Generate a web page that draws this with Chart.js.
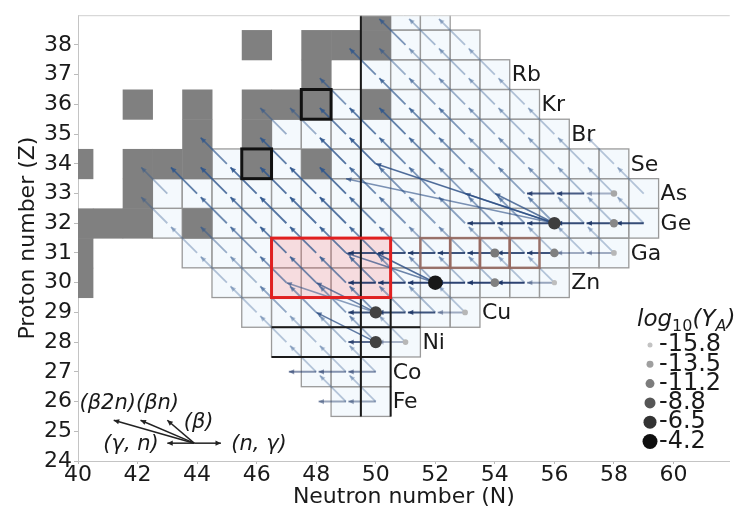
<!DOCTYPE html>
<html>
<head>
<meta charset="utf-8">
<script src="https://cdn.jsdelivr.net/npm/chart.js@4.4.0/dist/chart.umd.min.js"></script>
<style>
html, body { margin: 0; padding: 0; background: #fff; }
</style>
</head>
<body>
<canvas id="myCanvas" width="737" height="513"></canvas>
<script>
// tick labels
const nTicks = [40, 42, 44, 46, 48, 50, 52, 54, 56, 58, 60];
const zTicks = [24, 25, 26, 27, 28, 29, 30, 31, 32, 33, 34, 35, 36, 37, 38];

// stable nuclei (grey squares)
const stableN = [40, 40, 40, 41, 42, 44, 42, 40, 42, 43, 44, 46, 48, 44, 46, 42, 44, 46, 47, 48, 50, 48, 46, 48, 49, 50, 50];
const stableZ = [30, 31, 32, 32, 32, 32, 33, 34, 34, 34, 34, 34, 34, 35, 35, 36, 36, 36, 36, 36, 36, 37, 38, 38, 38, 38, 39];

// network rows
const rowZ    = [26, 27, 28, 29, 30, 31, 32, 33, 34, 35, 36, 37, 38, 39];
const rowNmin = [49, 48, 47, 46, 45, 44, 43, 43, 45, 47, 49, 50, 51, 51];
const rowNmax = [50, 50, 51, 53, 56, 58, 59, 59, 58, 56, 55, 54, 53, 52];
const rowName = ['Fe', 'Co', 'Ni', 'Cu', 'Zn', 'Ga', 'Ge', 'As', 'Se', 'Br', 'Kr', 'Rb', '', ''];

// beta-decay flow strength, one entry per N from rowNmin to rowNmax
const betaFlow = [
    [0.1, 0.1],
    [0.1, 0.1, 0.1],
    [0.1, 0.15, 0.2, 0.3, 0.1],
    [0.1, 0.35, 0.4, 0.4, 0.5, 0.3, 0.2, 0.1],
    [0.15, 0.2, 0.5, 0.6, 0.6, 0.6, 0.4, 0.3, 0.2, 0.2, 0.15, 0.1],
    [0.15, 0.3, 0.5, 0.7, 0.7, 0.7, 0.6, 0.5, 0.3, 0.3, 0.2, 0.2, 0.15, 0.1, 0.1],
    [0.15, 0, 0.6, 0.7, 0.8, 0.8, 0.8, 0.6, 0.5, 0.4, 0.4, 0.4, 0.4, 0.4, 0.2, 0.15, 0.1],
    [0.2, 0.7, 0.8, 0.8, 0.8, 0.8, 0.8, 0.6, 0.5, 0.5, 0.4, 0.4, 0.4, 0.3, 0.2, 0.15, 0.1],
    [0.6, 0, 0.7, 0, 0.8, 0.8, 0.6, 0.6, 0.5, 0.3, 0.3, 0.2, 0.15, 0.1],
    [0.3, 0.3, 0.7, 0.7, 0.7, 0.6, 0.5, 0.3, 0.2, 0.15],
    [0.5, 0, 0.6, 0.4, 0.3, 0.2, 0.15],
    [0.6, 0.3, 0.2, 0.2, 0.15],
    [0.5, 0.2, 0.15],
    [0.15, 0.15]
];

// (n,g)/(g,n) flows along isotopic chains
const hZ      = [33, 32, 31, 30, 29, 28, 27, 26];
const hFrom   = [55, 53, 49, 49, 49, 49, 47, 48];
const hTo     = [58, 59, 58, 56, 53, 51, 50, 50];
const hDarkTo = [57, 59, 56, 55, 52, 50, 50, 50];
const hFlow   = [0.8, 0.9, 0.85, 0.95, 0.85, 0.7, 0.45, 0.35];

// beta-delayed neutron flows
const bnN0 = [56, 56, 56, 52, 52, 50, 50, 50, 56];
const bnZ0 = [32, 32, 32, 30, 30, 29, 29, 28, 32];
const bnN1 = [50, 54, 53, 50, 49, 48, 47, 48, 49];
const bnZ1 = [34, 33, 33, 31, 31, 30, 30, 29, 33.5];
const bnFlow = [0.8, 0.7, 0.6, 0.8, 0.6, 0.6, 0.4, 0.7, 0.5];

// abundances log10(Y_A)
const yN   = [52, 56, 50, 50, 54, 56, 54, 58, 56, 51, 53, 58, 58];
const yZ   = [30, 32, 29, 28, 31, 31, 30, 32, 30, 28, 29, 33, 31];
const yLog = [-4.8, -7.2, -7.5, -7.5, -11.0, -11.5, -11.5, -12.0, -15.5, -15.0, -15.0, -14.0, -15.0];
const legendVals = [-15.8, -13.5, -11.2, -8.8, -6.5, -4.2];

// highlighted nuclei
const redBox = [46.5, 50.5, 29.5, 31.5];
const brownN = [52, 53, 54, 55];
const brownZ = [31, 31, 31, 31];
const blackN = [46, 48];
const blackZ = [34, 36];

// reaction key
const keyOrigin = [43.9, 24.6];
const keyDN = [1, -1, -1, -2, -3];
const keyDZ = [0, 0, 1, 1, 1];
const keyText = ['(β2n)(βn)', '(β)', '(γ, n)', '(n, γ)'];
const keyTextN = [40.05, 43.55, 40.85, 45.15];
const keyTextZ = [25.92, 25.3, 24.56, 24.56];

const FONT = 'DejaVu Sans';

function isStable(n, z) {
    for (let i = 0; i < stableN.length; i++) {
        if (stableN[i] === n && stableZ[i] === z) return true;
    }
    return false;
}

function radiusFor(v) {
    return 2.5 + (v + 15.8) / 11.6 * 5;
}

function greyFor(v) {
    const g = Math.round(195 - (v + 15.8) / 11.6 * 180);
    return 'rgb(' + g + ',' + g + ',' + g + ')';
}

function drawArrow(ctx, x0, y0, x1, y1, color, lw, head) {
    const a = Math.atan2(y1 - y0, x1 - x0);
    ctx.strokeStyle = color;
    ctx.fillStyle = color;
    ctx.lineWidth = lw;
    ctx.beginPath();
    ctx.moveTo(x0, y0);
    ctx.lineTo(x1, y1);
    ctx.stroke();
    ctx.beginPath();
    ctx.moveTo(x1, y1);
    ctx.lineTo(x1 - head * Math.cos(a - 0.45), y1 - head * Math.sin(a - 0.45));
    ctx.lineTo(x1 - head * Math.cos(a + 0.45), y1 - head * Math.sin(a + 0.45));
    ctx.closePath();
    ctx.fill();
}

const nuclearPlugin = {
    id: 'nuclear',
    beforeDatasetsDraw(chart) {
        const ctx = chart.ctx;
        const a = chart.chartArea;
        const px = v => chart.scales.x.getPixelForValue(v);
        const py = v => chart.scales.y.getPixelForValue(v);
        ctx.save();
        ctx.beginPath();
        ctx.rect(a.left, a.top, a.right - a.left, a.bottom - a.top);
        ctx.clip();

        // network cells
        rowZ.forEach((z, i) => {
            for (let n = rowNmin[i]; n <= rowNmax[i]; n++) {
                if (isStable(n, z)) continue;
                const x0 = px(n - 0.5), x1 = px(n + 0.5), y0 = py(z + 0.5), y1 = py(z - 0.5);
                ctx.fillStyle = 'rgba(220,235,250,0.3)';
                ctx.fillRect(x0, y0, x1 - x0, y1 - y0);
                ctx.strokeStyle = '#9a9a9a';
                ctx.lineWidth = 1.3;
                ctx.strokeRect(x0, y0, x1 - x0, y1 - y0);
            }
        });

        // stable nuclei
        ctx.fillStyle = '#808080';
        stableN.forEach((n, i) => {
            const z = stableZ[i];
            const x0 = px(n - 0.5), x1 = px(n + 0.5), y0 = py(z + 0.5), y1 = py(z - 0.5);
            ctx.fillRect(x0, y0, x1 - x0 + 0.5, y1 - y0 + 0.5);
        });

        // red region fill
        ctx.fillStyle = 'rgba(255,120,120,0.22)';
        ctx.fillRect(px(redBox[0]), py(redBox[3]), px(redBox[1]) - px(redBox[0]), py(redBox[2]) - py(redBox[3]));

        // beta arrows
        rowZ.forEach((z, i) => {
            betaFlow[i].forEach((s, k) => {
                if (s <= 0) return;
                const n = rowNmin[i] + k;
                const alpha = 0.25 + 0.7 * s;
                drawArrow(ctx, px(n), py(z), px(n - 0.88), py(z + 0.88),
                    'rgba(45,85,140,' + alpha.toFixed(2) + ')', 1.8, 6);
            });
        });

        // beta-delayed neutron arrows
        bnN0.forEach((n0, i) => {
            const alpha = 0.25 + 0.7 * bnFlow[i];
            drawArrow(ctx, px(n0), py(bnZ0[i]), px(bnN1[i]), py(bnZ1[i]),
                'rgba(40,75,130,' + alpha.toFixed(2) + ')', 1.6, 6);
        });

        // horizontal chains
        hZ.forEach((z, i) => {
            for (let n = hFrom[i]; n < hTo[i]; n++) {
                const s = n < hDarkTo[i] ? hFlow[i] : hFlow[i] * 0.35;
                const col = 'rgba(25,50,100,' + (0.15 + 0.8 * s).toFixed(2) + ')';
                drawArrow(ctx, px(n + 1), py(z), px(n + 0.08), py(z), col, 2, 6);
            }
        });
        ctx.restore();
    },
    afterDatasetsDraw(chart) {
        const ctx = chart.ctx;
        const a = chart.chartArea;
        const px = v => chart.scales.x.getPixelForValue(v);
        const py = v => chart.scales.y.getPixelForValue(v);
        ctx.save();

        // highlighted boxes
        ctx.strokeStyle = 'rgba(150,105,95,0.85)';
        ctx.lineWidth = 2.5;
        brownN.forEach((n, i) => {
            const z = brownZ[i];
            ctx.strokeRect(px(n - 0.5), py(z + 0.5), px(n + 0.5) - px(n - 0.5), py(z - 0.5) - py(z + 0.5));
        });
        ctx.strokeStyle = '#111';
        ctx.lineWidth = 3;
        blackN.forEach((n, i) => {
            const z = blackZ[i];
            ctx.strokeRect(px(n - 0.5), py(z + 0.5), px(n + 0.5) - px(n - 0.5), py(z - 0.5) - py(z + 0.5));
        });

        // magic numbers N=50, Z=28
        ctx.strokeStyle = '#1a1a1a';
        ctx.lineWidth = 2;
        ctx.beginPath();
        ctx.moveTo(px(49.5), py(25.5)); ctx.lineTo(px(49.5), a.top);
        ctx.moveTo(px(50.5), py(25.5)); ctx.lineTo(px(50.5), py(29.5));
        ctx.moveTo(px(46.5), py(28.5)); ctx.lineTo(px(51.5), py(28.5));
        ctx.moveTo(px(46.5), py(27.5)); ctx.lineTo(px(50.5), py(27.5));
        ctx.stroke();

        ctx.strokeStyle = '#e02020';
        ctx.lineWidth = 3;
        ctx.strokeRect(px(redBox[0]), py(redBox[3]), px(redBox[1]) - px(redBox[0]), py(redBox[2]) - py(redBox[3]));

        // top spine
        ctx.strokeStyle = '#cfcfcf';
        ctx.lineWidth = 1;
        ctx.beginPath();
        ctx.moveTo(a.left, a.top + 0.5); ctx.lineTo(a.right, a.top + 0.5);
        ctx.stroke();

        // element labels
        ctx.fillStyle = '#1a1a1a';
        ctx.font = '22px ' + FONT;
        ctx.textBaseline = 'middle';
        ctx.textAlign = 'left';
        rowZ.forEach((z, i) => {
            if (rowName[i]) ctx.fillText(rowName[i], px(rowNmax[i] + 0.5) + 2, py(z) + 1);
        });

        // reaction key
        const ox = px(keyOrigin[0]), oy = py(keyOrigin[1]);
        keyDN.forEach((dn, i) => {
            drawArrow(ctx, ox, oy, px(keyOrigin[0] + dn * 0.9), py(keyOrigin[1] + keyDZ[i] * 0.77), '#222', 1.5, 6);
        });
        ctx.font = 'italic 21px ' + FONT;
        ctx.fillStyle = '#1a1a1a';
        keyText.forEach((t, i) => ctx.fillText(t, px(keyTextN[i]), py(keyTextZ[i])));

        // abundance legend
        ctx.textBaseline = 'alphabetic';
        let tx = 637;
        const ty = 326;
        [['log', 23, 0], ['10', 16, 5], ['(Y', 23, 0], ['A', 16, 5], [')', 23, 0]].forEach(p => {
            ctx.font = (p[0] === '10' ? '' : 'italic ') + p[1] + 'px ' + FONT;
            ctx.fillText(p[0], tx, ty + p[2]);
            tx += ctx.measureText(p[0]).width;
        });
        ctx.font = '24px ' + FONT;
        ctx.textBaseline = 'middle';
        legendVals.forEach((v, i) => {
            const ly = 345 + i * 19.3;
            ctx.fillStyle = greyFor(v);
            ctx.beginPath();
            ctx.arc(650, ly, radiusFor(v), 0, Math.PI * 2);
            ctx.fill();
            ctx.fillStyle = '#1a1a1a';
            ctx.fillText(v.toFixed(1), 659, ly);
        });
        ctx.restore();
    }
};

const myChart = new Chart(document.getElementById('myCanvas').getContext('2d'), {
    type: 'scatter',
    data: {
        datasets: [{
            data: yN.map((n, i) => ({ x: n, y: yZ[i] })),
            pointRadius: c => radiusFor(yLog[c.dataIndex]),
            pointHoverRadius: c => radiusFor(yLog[c.dataIndex]),
            backgroundColor: c => greyFor(yLog[c.dataIndex]),
            borderWidth: 0
        }]
    },
    options: {
        responsive: false,
        animation: false,
        devicePixelRatio: 1,
        layout: { padding: { top: 7, right: 0, left: 0, bottom: 0 } },
        plugins: { legend: { display: false }, tooltip: { enabled: false } },
        scales: {
            x: {
                type: 'linear',
                min: 40,
                max: 61.89,
                afterBuildTicks: s => { s.ticks = nTicks.map(v => ({ value: v })); },
                afterFit: s => { s.height = 52; },
                grid: { drawOnChartArea: false, tickLength: 3, color: '#bbb' },
                border: { color: '#c4c4c4' },
                ticks: { font: { family: FONT, size: 22 }, color: '#1a1a1a', padding: -2, maxRotation: 0 },
                title: { display: true, text: 'Neutron number (N)', color: '#1a1a1a',
                    font: { family: FONT, size: 22 }, padding: { top: 0, bottom: 3 } }
            },
            y: {
                type: 'linear',
                min: 24,
                max: 39,
                afterBuildTicks: s => { s.ticks = zTicks.map(v => ({ value: v })); },
                afterFit: s => { s.width = 78; },
                grid: { drawOnChartArea: false, tickLength: 4, color: '#bbb' },
                border: { color: '#c4c4c4' },
                ticks: { font: { family: FONT, size: 22 }, color: '#1a1a1a', padding: 2 },
                title: { display: true, text: 'Proton number (Z)', color: '#1a1a1a',
                    font: { family: FONT, size: 22 }, padding: { top: 15, bottom: 0 } }
            }
        }
    },
    plugins: [nuclearPlugin]
});
</script>
</body>
</html>
